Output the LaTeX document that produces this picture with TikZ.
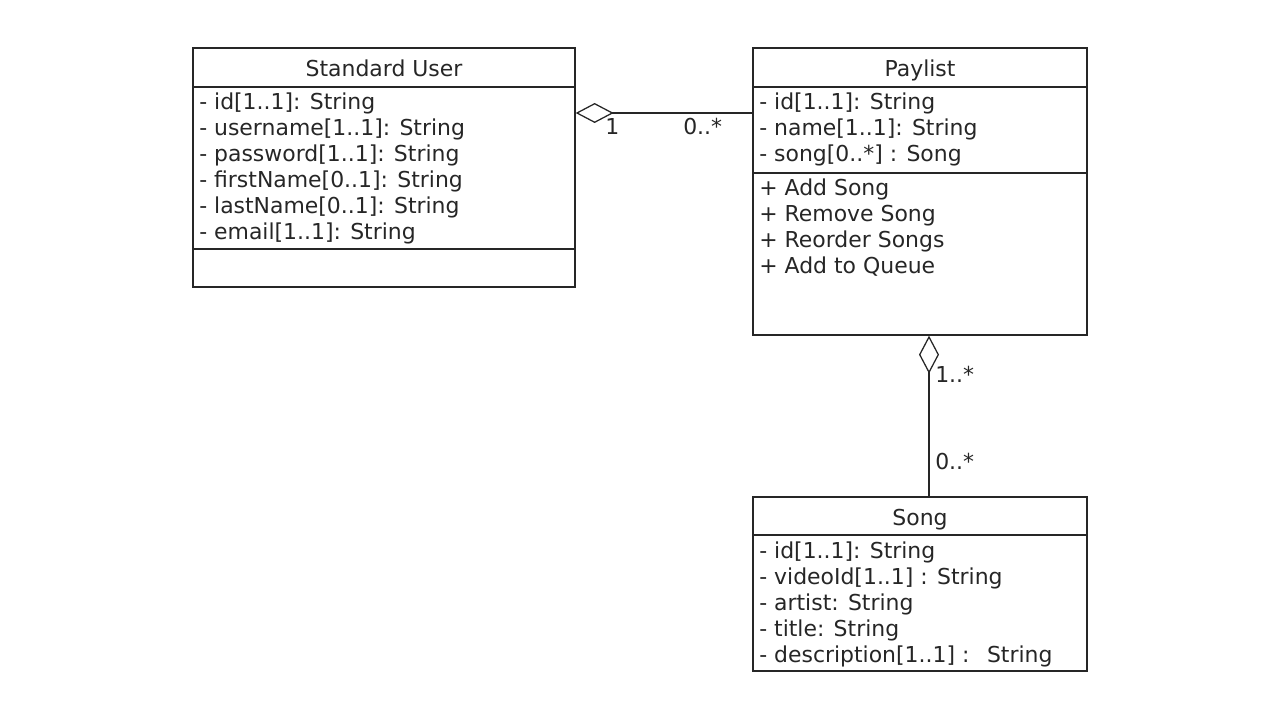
\documentclass[tikz,border=0pt]{standalone}
\usepackage{fontspec}
\setmainfont{DejaVu Sans}
\usetikzlibrary{arrows.meta,fit}
\colorlet{umlc}{black!85}
\tikzset{
    classbox/.style={draw=umlc,line width=0.9pt,inner sep=0pt},
    sep/.style={umlc,line width=0.9pt},
    member/.style={anchor=base west,inner sep=0pt,text=umlc,font=\fontsize{15.6}{18}\selectfont},
    classname/.style={anchor=base,inner sep=0pt,text=umlc,font=\fontsize{15.6}{18}\selectfont},
    mult/.style={anchor=base west,inner sep=0pt,text=umlc,font=\fontsize{15.6}{18}\selectfont},
    aggr/.style={umlc,line width=0.9pt,{Diamond[open,length=0.95cm,width=0.5cm]}-}
}

\begin{document}
\begin{tikzpicture}[x=0.025cm,y=-0.025cm]
            \useasboundingbox (0,0) rectangle (1280,720);
            % classes
            \node [classbox,fit={(193,48) (575,287)}] (user) {};
            \node [classbox,fit={(753,48) (1087,335)}] (play) {};
            \node [classbox,fit={(753,497) (1087,671)}] (song) {};
            \draw [sep] (user.west |- 0,87) -- (user.east |- 0,87);
            \draw [sep] (user.west |- 0,249) -- (user.east |- 0,249);
            \draw [sep] (play.west |- 0,87) -- (play.east |- 0,87);
            \draw [sep] (play.west |- 0,173) -- (play.east |- 0,173);
            \draw [sep] (song.west |- 0,535) -- (song.east |- 0,535);
            \node [classname] (usertitle) at (384,77) {Standard User};
            \node [classname] (playtitle) at (920,77) {Paylist};
            \node [classname] (songtitle) at (920,525) {Song};
            % members
            \foreach \txt [count=\i] in {{- id[1..1]: String},{- username[1..1]: String},
                {- password[1..1]: String},{- firstName[0..1]: String},
                {- lastName[0..1]: String},{- email[1..1]: String}} {
                \node [member] (ua\i) at (199,110+26*\i-26) {\txt};
            }
            \foreach \txt [count=\i] in {{- id[1..1]: String},{- name[1..1]: String},
                {- song[0..*] : Song}} {
                \node [member] (pa\i) at (759,110+26*\i-26) {\txt};
            }
            \foreach \txt [count=\i] in {{+ Add Song},{+ Remove Song},
                {+ Reorder Songs},{+ Add to Queue}} {
                \node [member] (pm\i) at (759,196+26*\i-26) {\txt};
            }
            \foreach \txt [count=\i] in {{- id[1..1]: String},{- videoId[1..1] : String},
                {- artist: String},{- title: String},{- description[1..1] :\hspace{0.8em}String}} {
                \node [member] (sa\i) at (759,558+26*\i-26) {\txt};
            }
            % associations
            \draw [aggr] (user.east |- 0,113) -- (play.west |- 0,113);
            \draw [aggr] (play.south -| 929,0) -- (song.north -| 929,0);
            \node [mult] (m1) at (605,135) {1};
            \node [mult] (m2) at (683,135) {0..*};
            \node [mult] (m3) at (935,383) {1..*};
            \node [mult] (m4) at (935,469) {0..*};
        \end{tikzpicture}
\end{document}
